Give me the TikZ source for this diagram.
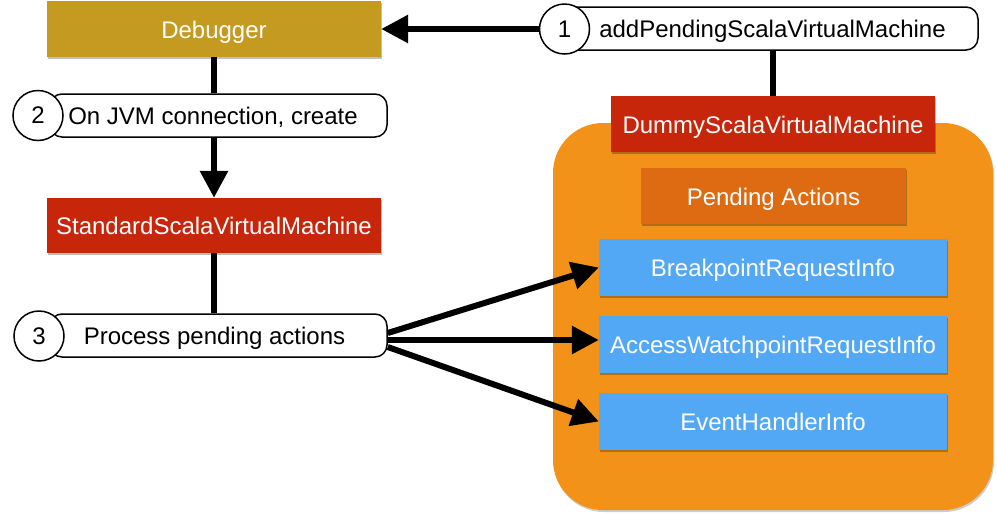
\documentclass[tikz,border=0pt]{standalone}
\usepackage{fontspec}
\setmainfont{Liberation Sans}
\usetikzlibrary{arrows.meta,shadows}
\definecolor{cgold}{HTML}{C49A20}
\definecolor{cred}{HTML}{C8260A}
\definecolor{corange}{HTML}{F29219}
\definecolor{cpend}{HTML}{DE6B11}
\definecolor{cblue}{HTML}{53A8F6}
\tikzset{
  box/.style={rectangle, draw=none, text=white, inner sep=0pt,
    font=\fontsize{24}{28}\selectfont, text height=18.5pt, text depth=0.5pt,
    drop shadow={shadow xshift=1pt,shadow yshift=-2pt,opacity=0.25,fill=black}},
  lrect/.style={rectangle, rounded corners=12pt, draw=black, line width=1.5pt, fill=white, inner sep=0pt},
  lcirc/.style={circle, draw=black, line width=1.5pt, fill=white, minimum size=50pt, inner sep=0pt,
    font=\fontsize{24}{28}\selectfont},
  ltext/.style={inner sep=0pt, font=\fontsize{24}{28}\selectfont, text=black,
    text height=18pt, text depth=1pt},
  conn/.style={line width=6pt, draw=black},
  arr/.style={conn, -{Triangle[length=27pt,width=27pt]}},
}
\begin{document}
\begin{tikzpicture}[x=1pt,y=-1pt]
\useasboundingbox (0,0) rectangle (997,515);
% container
\fill[corange, rounded corners=50pt, drop shadow={shadow xshift=1pt,shadow yshift=-2pt,opacity=0.2,fill=black}] (553,123) rectangle (993,510);
% boxes
\node[box, fill=cgold, minimum width=334pt, minimum height=56pt] (debugger) at (214,29) {Debugger};
\node[box, fill=cred, minimum width=334pt, minimum height=55pt] (ssvm) at (214,225.5) {StandardScalaVirtualMachine};
\node[box, fill=cred, minimum width=324pt, minimum height=56pt] (dummy) at (773,124) {DummyScalaVirtualMachine};
\node[box, fill=cpend, minimum width=265pt, minimum height=56pt] (pending) at (773.5,196) {Pending Actions};
\node[box, fill=cblue, minimum width=348pt, minimum height=57pt] (bp) at (773,267.5) {BreakpointRequestInfo};
\node[box, fill=cblue, minimum width=348pt, minimum height=57pt] (aw) at (773,344.5) {AccessWatchpointRequestInfo};
\node[box, fill=cblue, minimum width=348pt, minimum height=57pt] (eh) at (773,421.5) {EventHandlerInfo};
% labels
\node[lrect, minimum width=418pt, minimum height=43pt] (lab1) at (769,28.5) {};
\node[lcirc] (c1) at (564.5,29) {1};
\node[ltext] (t1) at (772.5,29) {addPendingScalaVirtualMachine};
\node[lrect, minimum width=337pt, minimum height=43pt] (lab2) at (218.5,115.5) {};
\node[lcirc] (c2) at (38,115.5) {2};
\node[ltext] (t2) at (213,115.5) {On JVM connection, create};
\node[lrect, minimum width=337pt, minimum height=43pt] (lab3) at (218.5,335.5) {};
\node[lcirc] (c3) at (39,336) {3};
\node[ltext] (t3) at (214.5,335.5) {Process pending actions};
% connectors
\draw[arr] (c1.west) -- (debugger.east);
\draw[conn] (dummy.north) -- (dummy.north |- lab1.south);
\draw[conn] (debugger.south) -- (debugger.south |- lab2.north);
\draw[arr] (ssvm.north |- lab2.south) -- (ssvm.north);
\draw[conn] (ssvm.south) -- (ssvm.south |- lab3.north);
\coordinate (s1) at ([yshift=2.5pt]lab3.east);
\coordinate (s2) at ([yshift=-4.5pt]lab3.east);
\coordinate (s3) at ([yshift=-11.5pt]lab3.east);
\draw[arr] (s1) -- (bp.west);
\draw[arr] (s2) -- (aw.west |- s2);
\draw[arr] (s3) -- (eh.west);
\end{tikzpicture}
\end{document}
